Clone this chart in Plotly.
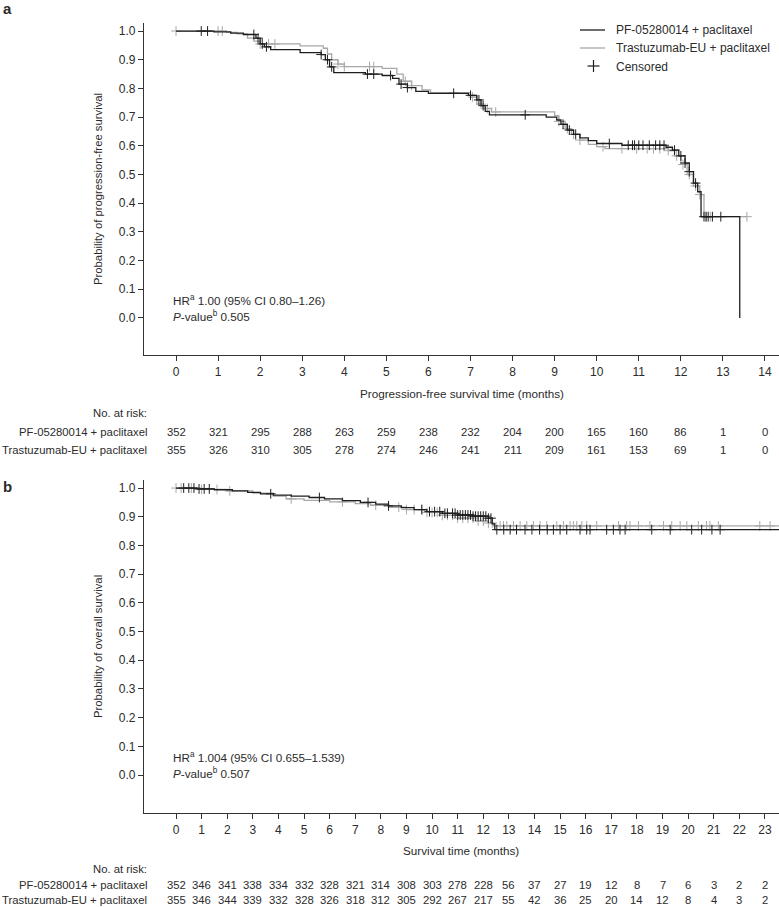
import numpy as np
import plotly.graph_objects as go

W, H = 779, 907

# ---------------- Panel a: PFS data ----------------
pfs_pf_t = [0, 0.9, 1.3, 1.6, 1.9, 2.0, 2.1, 2.25, 2.95, 3.45, 3.55, 3.65, 3.75, 4.5, 4.9, 5.15, 5.3, 5.5, 5.7, 6.0,
            6.95, 7.15, 7.25, 7.35, 7.45, 8.8, 9.05, 9.15, 9.3, 9.45, 9.6, 9.8, 10.0, 10.6, 11.65, 11.8, 11.95, 12.1,
            12.2, 12.3, 12.4, 12.48, 13.4]
pfs_pf_s = [1.0, 0.997, 0.993, 0.988, 0.975, 0.955, 0.945, 0.935, 0.925, 0.918, 0.90, 0.875, 0.855, 0.850, 0.845,
            0.835, 0.815, 0.803, 0.79, 0.783, 0.776, 0.760, 0.74, 0.72, 0.708, 0.700, 0.690, 0.675, 0.655, 0.640,
            0.628, 0.618, 0.608, 0.602, 0.595, 0.585, 0.565, 0.54, 0.51, 0.47, 0.44, 0.353, 0.0]
pfs_pf_cens = [0.6, 0.75, 1.85, 1.95, 2.05, 2.15, 3.45, 3.6, 3.7, 4.55, 4.7, 5.1, 5.35, 5.5, 6.6, 7.0, 7.2, 7.3, 8.3,
               9.2, 9.35, 9.5, 10.3, 10.75, 10.85, 10.9, 11.0, 11.1, 11.25, 11.4, 11.5, 11.6, 11.85, 12.0, 12.1, 12.2,
               12.35, 12.55, 12.6, 12.65, 12.75, 12.95]

pfs_tr_t = [0, 1.2, 1.45, 1.7, 1.85, 2.0, 2.95, 3.5, 3.6, 3.7, 3.85, 4.0, 4.9, 5.25, 5.4, 5.6, 5.85, 6.05, 7.0, 7.15,
            7.3, 7.5, 9.0, 9.1, 9.25, 9.4, 9.6, 9.8, 10.0, 10.2, 11.7, 11.85, 12.0, 12.15, 12.3, 12.45, 12.55, 13.57]
pfs_tr_s = [1.0, 0.995, 0.99, 0.975, 0.965, 0.955, 0.948, 0.94, 0.92, 0.90, 0.885, 0.876, 0.870, 0.85, 0.825, 0.81,
            0.795, 0.785, 0.77, 0.745, 0.73, 0.718, 0.705, 0.685, 0.66, 0.64, 0.62, 0.605, 0.597, 0.590, 0.583, 0.565,
            0.535, 0.50, 0.46, 0.43, 0.353, 0.353]
pfs_tr_cens = [0.0, 1.0, 1.1, 2.0, 2.2, 2.35, 3.85, 4.0, 4.6, 4.7, 5.45, 5.6, 7.05, 7.25, 7.4, 7.6, 9.1, 9.3, 9.45, 9.6,
               10.15, 10.6, 10.95, 11.2, 11.35, 11.5, 11.7, 11.9, 12.05, 12.2, 12.35, 12.45, 12.6, 12.7, 13.57]

pfs_months = list(range(0, 15))
pfs_risk_pf = [352, 321, 295, 288, 263, 259, 238, 232, 204, 200, 165, 160, 86, 1, 0]
pfs_risk_tr = [355, 326, 310, 305, 278, 274, 246, 241, 211, 209, 161, 153, 69, 1, 0]

# ---------------- Panel b: OS data ----------------
os_pf_t = [0, 0.8, 1.5, 2.2, 2.8, 3.3, 3.8, 4.5, 5.2, 5.8, 6.5, 7.2, 7.8, 8.3, 8.8, 9.3, 9.8, 10.4, 11.0, 11.6, 12.2,
           12.35, 12.45, 23.6]
os_pf_s = [1.0, 0.997, 0.994, 0.99, 0.985, 0.98, 0.975, 0.972, 0.967, 0.962, 0.956, 0.95, 0.944, 0.938, 0.932, 0.925,
           0.918, 0.912, 0.906, 0.902, 0.895, 0.875, 0.855, 0.855]
os_pf_cens = [0.3, 0.5, 0.7, 0.9, 1.1, 1.3, 3.7, 5.6, 7.5, 8.3, 9.6, 9.9, 10.1, 10.3, 10.5, 10.6, 10.8, 10.9, 11.0,
              11.1, 11.2, 11.3, 11.4, 11.5, 11.6, 11.7, 11.8, 11.9, 12.0, 12.1, 12.2, 12.3, 12.53, 12.8, 13.05, 13.3,
              13.63, 13.9, 14.2, 14.5, 14.74, 15.0, 15.26, 15.78, 16.04, 16.17, 16.82, 17.08, 17.34, 17.54, 18.58,
              19.3, 20.14, 20.53, 20.93, 21.25]

os_tr_t = [0, 1.0, 2.0, 3.0, 3.8, 4.3, 5.0, 6.0, 7.0, 7.6, 8.3, 9.0, 9.7, 10.3, 11.0, 11.7, 12.2, 12.4, 23.6]
os_tr_s = [1.0, 0.995, 0.99, 0.982, 0.972, 0.962, 0.957, 0.952, 0.946, 0.94, 0.933, 0.925, 0.915, 0.905, 0.895,
           0.885, 0.878, 0.868, 0.868]
os_tr_cens = [0.0, 0.2, 0.6, 1.0, 1.6, 2.1, 4.5, 6.5, 7.8, 8.7, 9.0, 9.3, 9.6, 9.8, 10.0, 10.2, 10.4, 10.6, 10.8, 11.0,
              11.2, 11.4, 11.6, 11.8, 12.0, 12.2, 12.35, 12.66, 12.79, 12.92, 13.18, 13.44, 13.7, 13.96, 14.22, 14.48,
              14.87, 15.13, 15.39, 15.52, 15.65, 15.85, 16.04, 16.43, 17.28, 17.6, 17.73, 18.06, 18.51, 19.04, 19.36,
              19.69, 19.95, 20.4, 20.72, 20.85, 21.18, 22.8, 23.2]

os_months = list(range(0, 24))
os_risk_pf = [352, 346, 341, 338, 334, 332, 328, 321, 314, 308, 303, 278, 228, 56, 37, 27, 19, 12, 8, 7, 6, 3, 2, 2]
os_risk_tr = [355, 346, 344, 339, 332, 328, 326, 318, 312, 305, 292, 267, 217, 55, 42, 36, 25, 20, 14, 12, 8, 4, 3, 2]

arm_names = ["PF-05280014 + paclitaxel", "Trastuzumab-EU + paclitaxel"]

BLACK = "#1e1e1e"
GREY = "#a8a8a8"
TXT = "#2b2b2b"
FONT = "Liberation Sans, Arial, sans-serif"
FS = 11.7
FS_T = 11.3  # risk table


def px_x(p):
    return p / W


def px_y(p):
    return 1 - p / H


def step_at(ts, ss, x):
    ts = np.asarray(ts)
    ss = np.asarray(ss)
    idx = np.searchsorted(ts, np.asarray(x), side="right") - 1
    idx = np.clip(idx, 0, len(ss) - 1)
    return ss[idx]


fig = go.Figure()


def add_curves(ts, ss, cens, color, xa, ya):
    fig.add_trace(go.Scatter(x=ts, y=ss, mode="lines", line=dict(color=color, width=1.3, shape="hv"),
                             xaxis=xa, yaxis=ya, showlegend=False, hoverinfo="skip"))
    cy = step_at(ts, ss, cens)
    for sym in ("line-ns", "line-ew"):
        fig.add_trace(go.Scatter(x=cens, y=cy, mode="markers",
                                 marker=dict(symbol=sym, size=7, line=dict(color=color, width=1)),
                                 xaxis=xa, yaxis=ya, showlegend=False, hoverinfo="skip"))


# draw grey first, black on top
add_curves(pfs_tr_t, pfs_tr_s, pfs_tr_cens, GREY, "x", "y")
add_curves(pfs_pf_t, pfs_pf_s, pfs_pf_cens, BLACK, "x", "y")
add_curves(os_tr_t, os_tr_s, os_tr_cens, GREY, "x2", "y2")
add_curves(os_pf_t, os_pf_s, os_pf_cens, BLACK, "x2", "y2")

x0 = px_x(144)
axis_common = dict(showline=True, linecolor="#333", linewidth=1.2, ticks="outside", ticklen=5, tickwidth=1.2,
                   tickcolor="#333", showgrid=False, zeroline=False,
                   tickfont=dict(family=FONT, size=12, color=TXT))

yticks = [round(i * 0.1, 1) for i in range(11)]

fig.update_layout(
    width=W, height=H, margin=dict(l=0, r=0, t=0, b=0),
    paper_bgcolor="white", plot_bgcolor="white",
    font=dict(family=FONT, size=FS, color=TXT),
    xaxis=dict(domain=[x0, 1], range=[-0.761, 14.333], anchor="y", tickvals=pfs_months, **axis_common),
    yaxis=dict(domain=[px_y(355), px_y(23)], range=[-0.129, 1.028], anchor="x", tickvals=yticks,
               tickformat=".1f", **axis_common),
    xaxis2=dict(domain=[x0, 1], range=[-1.25, 23.55], anchor="y2", tickvals=os_months, **axis_common),
    yaxis2=dict(domain=[px_y(813), px_y(480)], range=[-0.132, 1.028], anchor="x2", tickvals=yticks,
                tickformat=".1f", **axis_common),
    showlegend=False,
)

ann = []


def text(x, y, s, xanchor="left", size=FS, **kw):
    ann.append(dict(x=px_x(x), y=px_y(y), xref="paper", yref="paper", text=s, showarrow=False,
                    xanchor=xanchor, yanchor="middle", font=dict(family=FONT, size=size, color=TXT), **kw))


# panel letters
text(1, 8, "<b>a</b>", size=15)
text(1, 486, "<b>b</b>", size=15)

# axis titles
text(461.5, 393, "Progression-free survival time (months)", xanchor="center")
text(460.5, 850, "Survival time (months)", xanchor="center")
ann.append(dict(x=px_x(98), y=px_y(189), xref="paper", yref="paper", text="Probability of progression-free survival",
                showarrow=False, textangle=-90, xanchor="center", yanchor="middle",
                font=dict(family=FONT, size=11.3, color=TXT)))
ann.append(dict(x=px_x(98), y=px_y(647), xref="paper", yref="paper", text="Probability of overall survival",
                showarrow=False, textangle=-90, xanchor="center", yanchor="middle",
                font=dict(family=FONT, size=11.3, color=TXT)))

# stats text
text(171, 300, "HR<sup>a</sup> 1.00 (95% CI 0.80–1.26)")
text(171, 316, "<i>P</i>-value<sup>b</sup> 0.505")
text(171, 757, "HR<sup>a</sup> 1.004 (95% CI 0.655–1.539)")
text(171, 773, "<i>P</i>-value<sup>b</sup> 0.507")

# legend
text(614, 30, arm_names[0], size=12)
text(614, 48, arm_names[1], size=12)
text(614, 67, "Censored", size=12)
shapes = [
    dict(type="line", xref="paper", yref="paper", x0=px_x(580), x1=px_x(605), y0=px_y(30), y1=px_y(30),
         line=dict(color=BLACK, width=1.3)),
    dict(type="line", xref="paper", yref="paper", x0=px_x(580), x1=px_x(605), y0=px_y(48), y1=px_y(48),
         line=dict(color=GREY, width=1.3)),
    dict(type="line", xref="paper", yref="paper", x0=px_x(587.5), x1=px_x(599.5), y0=px_y(66), y1=px_y(66),
         line=dict(color=BLACK, width=1.2)),
    dict(type="line", xref="paper", yref="paper", x0=px_x(593.5), x1=px_x(593.5), y0=px_y(60), y1=px_y(72),
         line=dict(color=BLACK, width=1.2)),
]

# risk tables
text(149, 413, "No. at risk:", xanchor="right", size=FS_T)
text(149, 432, arm_names[0], xanchor="right", size=FS_T)
text(149, 450, arm_names[1], xanchor="right", size=FS_T)
for m, a, b in zip(pfs_months, pfs_risk_pf, pfs_risk_tr):
    for yy, v in ((432, a), (450, b)):
        ann.append(dict(x=m, y=px_y(yy), xref="x", yref="paper", text=str(v), showarrow=False,
                        xanchor="center", yanchor="middle", font=dict(family=FONT, size=FS_T, color=TXT)))

text(149, 869, "No. at risk:", xanchor="right", size=FS_T)
text(149, 885, arm_names[0], xanchor="right", size=FS_T)
text(149, 900, arm_names[1], xanchor="right", size=FS_T)
for m, a, b in zip(os_months, os_risk_pf, os_risk_tr):
    for yy, v in ((885, a), (900, b)):
        ann.append(dict(x=m, y=px_y(yy), xref="x2", yref="paper", text=str(v), showarrow=False,
                        xanchor="center", yanchor="middle", font=dict(family=FONT, size=FS_T, color=TXT)))

fig.update_layout(annotations=ann, shapes=shapes)
fig.write_html("out.html", config={"displayModeBar": False},
               post_script="document.body.style.margin='0';document.body.style.overflow='hidden';")
